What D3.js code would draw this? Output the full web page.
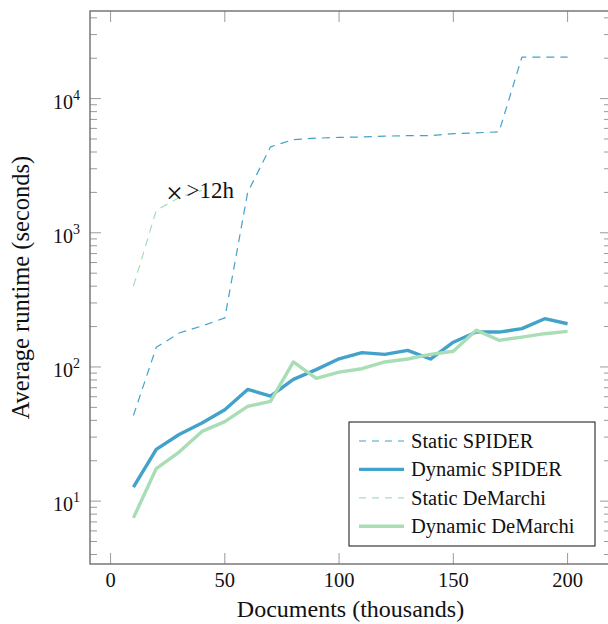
<!DOCTYPE html>
<html>
<head>
<meta charset="utf-8">
<script src="https://cdn.jsdelivr.net/npm/d3@7"></script>
<style>
  body { margin: 0; background: #fff; }
  text { font-family: "Liberation Serif", "DejaVu Serif", serif; fill: #111; }
</style>
</head>
<body>
<svg width="608" height="624"></svg>
<script>
var docs = [10, 20, 30, 40, 50, 60, 70, 80, 90, 100, 110, 120, 130, 140, 150, 160, 170, 180, 190, 200];
var staticSpider = [43.5, 140, 179, 202, 232, 2000, 4370, 4950, 5070, 5140, 5180, 5250, 5300, 5300, 5480, 5560, 5650, 20400, 20400, 20400];
var dynamicSpider = [12.7, 24.3, 31.4, 38.2, 48, 68, 60.7, 80.9, 95.5, 115, 128, 124, 133, 114.6, 153, 182, 182, 193, 229, 210];
var staticDeMarchi = [400, 1470, 1830, 2070];
var dynamicDeMarchi = [7.5, 17.5, 23.2, 33.1, 39.1, 50.8, 55.4, 109, 82.2, 91.6, 97, 109, 114.6, 124, 131, 188, 158, 167, 177, 184];

var xTicks = [0, 50, 100, 150, 200];
var yTicks = [10, 100, 1000, 10000];
var yExp = ["1", "2", "3", "4"];

var series = [
  { name: "Static SPIDER", values: staticSpider, color: "#43a2ca", dashed: true },
  { name: "Dynamic SPIDER", values: dynamicSpider, color: "#43a2ca", dashed: false },
  { name: "Static DeMarchi", values: staticDeMarchi, color: "#a8ddb5", dashed: true },
  { name: "Dynamic DeMarchi", values: dynamicDeMarchi, color: "#a8ddb5", dashed: false }
];

var svg = d3.select("svg");
const plotL = 90, plotR = 611, plotT = 11, plotB = 564;

var x = d3.scaleLinear().domain([-9, 219]).range([plotL, plotR]);
var y = d3.scaleLog().domain([3.4, 44980]).range([plotB, plotT]);

svg.append("clipPath").attr("id", "clip")
  .append("rect")
  .attr("x", plotL).attr("y", plotT)
  .attr("width", plotR - plotL).attr("height", plotB - plotT);

// minor ticks on the log axis
var minor = [];
[1, 10, 100, 1000, 10000].forEach(d => {
  for (var i = 2; i <= 9; i++) {
    var v = d * i;
    if (v > y.domain()[0] && v < y.domain()[1]) minor.push(v);
  }
});

var ticks = svg.append("g").attr("stroke", "#9a9a9a").attr("stroke-width", 1);
minor.forEach(v => {
  ticks.append("line").attr("x1", plotL).attr("x2", plotL + 7).attr("y1", y(v)).attr("y2", y(v));
  ticks.append("line").attr("x1", plotR).attr("x2", plotR - 7).attr("y1", y(v)).attr("y2", y(v));
});
yTicks.forEach(v => {
  ticks.append("line").attr("x1", plotL).attr("x2", plotL + 11).attr("y1", y(v)).attr("y2", y(v));
  ticks.append("line").attr("x1", plotR).attr("x2", plotR - 11).attr("y1", y(v)).attr("y2", y(v));
});
xTicks.forEach(v => {
  ticks.append("line").attr("x1", x(v)).attr("x2", x(v)).attr("y1", plotB).attr("y2", plotB - 11);
  ticks.append("line").attr("x1", x(v)).attr("x2", x(v)).attr("y1", plotT).attr("y2", plotT + 11);
});

// tick labels
svg.append("g").selectAll("text")
  .data(xTicks)
  .enter()
  .append("text")
  .attr("x", d => x(d))
  .attr("y", 587)
  .attr("text-anchor", "middle")
  .attr("font-size", 20.5)
  .text(d => d);

var yl = svg.append("g").selectAll("text")
  .data(yTicks)
  .enter()
  .append("text")
  .attr("x", 80)
  .attr("y", d => y(d) + 10)
  .attr("text-anchor", "end");
yl.append("tspan").attr("font-size", 20).text("10");
yl.append("tspan").attr("font-size", 14).attr("dy", -9).text((d, i) => yExp[i]);

// axis titles
svg.append("text")
  .attr("x", (plotL + plotR) / 2)
  .attr("y", 617)
  .attr("text-anchor", "middle")
  .attr("font-size", 24)
  .text("Documents (thousands)");

svg.append("text")
  .attr("transform", "translate(29," + (plotT + plotB) / 2 + ") rotate(-90)")
  .attr("text-anchor", "middle")
  .attr("font-size", 24.5)
  .text("Average runtime (seconds)");

// lines
var line = d3.line()
  .x((d, i) => x(docs[i]))
  .y(d => y(d));

var plot = svg.append("g").attr("clip-path", "url(#clip)");
series.forEach(s => {
  plot.append("path")
    .datum(s.values)
    .attr("d", line)
    .attr("fill", "none")
    .attr("stroke", s.color)
    .attr("stroke-width", s.dashed ? 1.2 : 3.4)
    .attr("stroke-dasharray", s.dashed ? "8,6" : null)
    .attr("stroke-linejoin", "round");
});

// annotation for the run that did not finish
svg.append("text")
  .attr("x", x(28))
  .attr("y", y(2015) + 11)
  .attr("text-anchor", "middle")
  .attr("font-size", 30)
  .text("\u00d7");
svg.append("text")
  .attr("x", x(28) + 12)
  .attr("y", y(2015) + 6)
  .attr("font-size", 23)
  .text(">12h");

// frame
svg.append("rect")
  .attr("x", plotL).attr("y", plotT)
  .attr("width", plotR - plotL).attr("height", plotB - plotT)
  .attr("fill", "none")
  .attr("stroke", "#6e6e6e")
  .attr("stroke-width", 1.4);

// legend
var legend = svg.append("g").attr("transform", "translate(349,422)");
legend.append("rect")
  .attr("width", 246).attr("height", 124)
  .attr("fill", "#fff")
  .attr("stroke", "#111")
  .attr("stroke-width", 1);

var rows = legend.selectAll("g.row")
  .data(series)
  .enter()
  .append("g")
  .attr("transform", (d, i) => "translate(0," + (19 + i * 28.4) + ")");

rows.append("line")
  .attr("x1", 10).attr("x2", 55)
  .attr("stroke", d => d.color)
  .attr("stroke-width", d => d.dashed ? 1.2 : 3.4)
  .attr("stroke-dasharray", d => d.dashed ? "7,6" : null);

rows.append("text")
  .attr("x", 62)
  .attr("y", 7)
  .attr("font-size", 20.5)
  .text(d => d.name);
</script>
</body>
</html>
